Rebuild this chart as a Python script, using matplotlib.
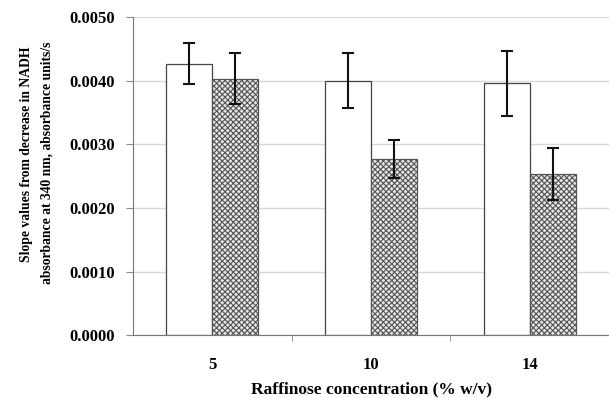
import numpy as np
import matplotlib.pyplot as plt

plt.rcParams['font.family'] = 'Liberation Serif'
plt.rcParams['font.weight'] = 'bold'
plt.rcParams['hatch.color'] = '#7a7a7a'
plt.rcParams['hatch.linewidth'] = 0.8

concentrations = ['5', '10', '14']
open_vals = [0.00427, 0.00400, 0.00396]
open_err = [0.00032, 0.00043, 0.00051]
hatched_vals = [0.00403, 0.00277, 0.00253]
hatched_err = [0.00040, 0.00030, 0.00041]

fig = plt.figure(figsize=(6.09, 3.98), dpi=100)
ax = fig.add_axes([0.2184, 0.158, 0.782, 0.799])

x = np.arange(len(concentrations))
w = 0.29

ax.bar(x - w/2, open_vals, w, color='white', edgecolor='#444444', linewidth=0.9, zorder=2)
ax.bar(x + w/2, hatched_vals, w, color='#e6e6e6', edgecolor='#555555', linewidth=0.9,
       hatch='xxxxxx', zorder=2)
ax.errorbar(x - w/2, open_vals, yerr=open_err, fmt='none', ecolor='#111111',
            elinewidth=1.5, capsize=4.5, capthick=1.5, zorder=3)
ax.errorbar(x + w/2, hatched_vals, yerr=hatched_err, fmt='none', ecolor='#111111',
            elinewidth=1.5, capsize=4.5, capthick=1.5, zorder=3)

ax.set_xlim(-0.5, 2.5)
ax.set_ylim(0, 0.005)
yt = np.arange(0, 0.0051, 0.001)
ax.set_yticks(yt)
ax.set_yticklabels(['%.4f' % v for v in yt])
ax.yaxis.grid(True, color='#d8d8d8', linewidth=1.0)
ax.set_axisbelow(True)

ax.set_xticks(x)
ax.set_xticklabels(concentrations)
ax.set_xticks([0.5, 1.5], minor=True)
ax.tick_params(axis='x', which='major', length=0, pad=16, labelsize=12)
ax.tick_params(axis='x', which='minor', length=4, color='#888888', direction='out')
ax.tick_params(axis='y', length=5, color='#888888', labelsize=12, pad=8)

for s in ['top', 'right']:
    ax.spines[s].set_visible(False)
ax.spines['left'].set_color('#777777')
ax.spines['bottom'].set_color('#777777')

ax.set_xlabel('Raffinose concentration (% w/v)', fontsize=12.5, fontweight='bold', labelpad=6)

# two-line y label placed by hand
fig.text(27/609, 1 - 154/398, 'Slope values from decrease in NADH', rotation=90,
         ha='center', va='center', fontsize=9.8, fontweight='bold')
fig.text(47/609, 1 - 163/398, 'absorbance at 340 nm, absorbance units/s', rotation=90,
         ha='center', va='center', fontsize=9.8, fontweight='bold')

fig.savefig('out.png', dpi=100)
